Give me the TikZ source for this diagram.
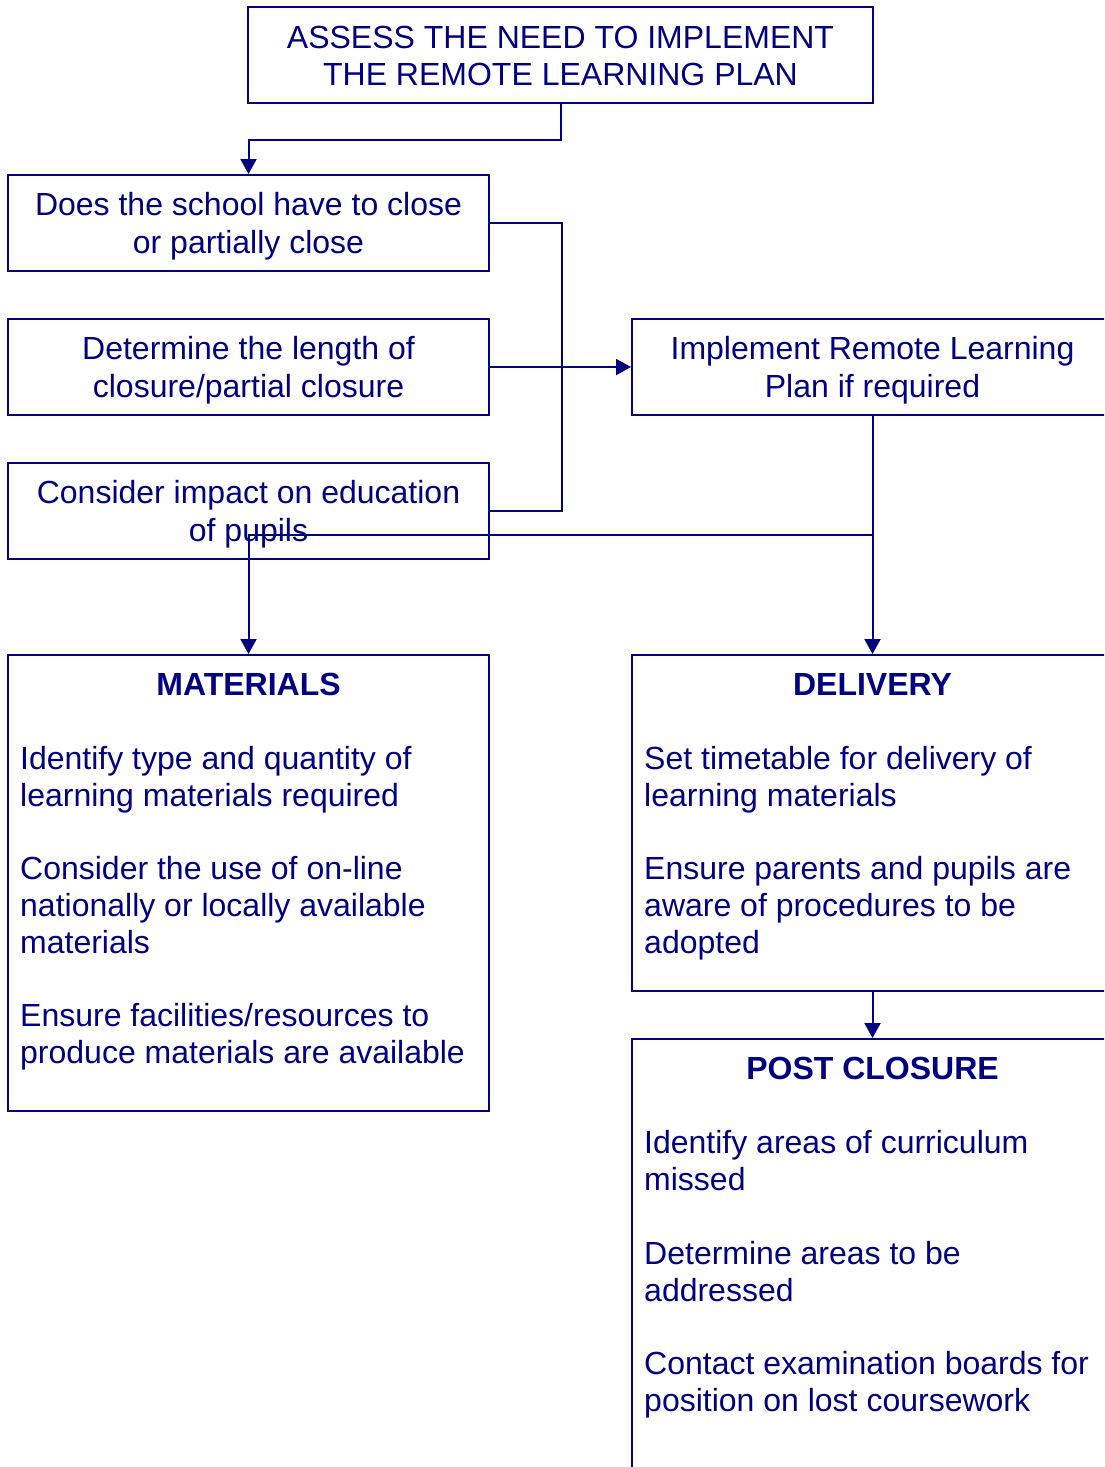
\documentclass[tikz,border=0pt]{standalone}
\usepackage{fontspec}
\setmainfont{Liberation Sans}
\usetikzlibrary{arrows.meta,calc}
\definecolor{navyc}{RGB}{0,0,128}
\begin{document}
\begin{tikzpicture}[x=1pt,y=-1pt,
  every node/.style={text=navyc},
  txt/.style={font=\fontsize{32}{37.5}\selectfont, inner sep=0pt, align=center},
  ttl/.style={font=\fontsize{32}{37.5}\selectfont\bfseries, inner sep=0pt, anchor=base},
  ln/.style={font=\fontsize{32}{37.5}\selectfont, inner sep=0pt, anchor=base west},
  box/.style={draw=navyc, line width=2pt, rectangle, inner sep=0pt,
    minimum width=481pt, minimum height=96pt},
  conn/.style={draw=navyc, line width=2pt},
  arr/.style={conn, -{Triangle[width=16pt,length=15pt]}}]
\useasboundingbox (0,0) rectangle (1104,1467);
\clip (0,0) rectangle (1104,1467);
\fill[white] (0,0) rectangle (1104,1467);

% boxes
\node[box, minimum width=625pt] (top) at (560.5,55) {};
\node[box] (b2) at (248.5,223) {};
\node[box] (b3) at (248.5,367) {};
\node[box] (b4) at (248.5,511) {};
\node[box] (b5) at (872.5,367) {};
\node[box, minimum height=456pt] (mat) at (248.5,883) {};
\node[box, minimum height=336pt] (del) at (872.5,823) {};
\node[box, minimum height=461pt] (post) at (872.5,1269.5) {};

% simple box texts
\node[txt, yshift=-1pt] (topt) at (top) {ASSESS THE NEED TO IMPLEMENT\\THE REMOTE LEARNING PLAN};
\node[txt, yshift=-3pt] (b2t) at (b2) {Does the school have to close\\or partially close};
\node[txt, yshift=-3pt] (b3t) at (b3) {Determine the length of\\closure/partial closure};
\node[txt, yshift=-3pt] (b4t) at (b4) {Consider impact on education\\of pupils};
\node[txt, yshift=-3pt] (b5t) at (b5) {Implement Remote Learning\\Plan if required};

% MATERIALS text
\node[ttl] (matT) at (248.5,695) {MATERIALS};
\node[ln] (m1) at (20,769) {Identify type and quantity of};
\node[ln] (m2) at (20,806) {learning materials required};
\node[ln] (m3) at (20,879) {Consider the use of on-line};
\node[ln] (m4) at (20,916) {nationally or locally available};
\node[ln] (m5) at (20,953) {materials};
\node[ln] (m6) at (20,1026) {Ensure facilities/resources to};
\node[ln] (m7) at (20,1063) {produce materials are available};

% DELIVERY text
\node[ttl] (delT) at (872.5,695) {DELIVERY};
\node[ln] (d1) at (644,769) {Set timetable for delivery of};
\node[ln] (d2) at (644,806) {learning materials};
\node[ln] (d3) at (644,879) {Ensure parents and pupils are};
\node[ln] (d4) at (644,916) {aware of procedures to be};
\node[ln] (d5) at (644,953) {adopted};

% POST CLOSURE text
\node[ttl] (postT) at (872.5,1079) {POST CLOSURE};
\node[ln] (p1) at (644,1153) {Identify areas of curriculum};
\node[ln] (p2) at (644,1190) {missed};
\node[ln] (p3) at (644,1264) {Determine areas to be};
\node[ln] (p4) at (644,1301) {addressed};
\node[ln] (p5) at (644,1374) {Contact examination boards for};
\node[ln] (p6) at (644,1411) {position on lost coursework};

% connectors
\draw[arr] (top.south) -- ++(0,36) -| (b2.north);
\draw[conn] (b2.east) -- ++(72,0) |- (b4.east);
\draw[arr] (b3.east) -- (b5.west);
\draw[arr] (b5.south) -- (del.north);
\coordinate (j) at (872.5,535);
\draw[arr] (j) -| (mat.north);
\draw[arr] (del.south) -- (post.north);
\end{tikzpicture}
\end{document}
